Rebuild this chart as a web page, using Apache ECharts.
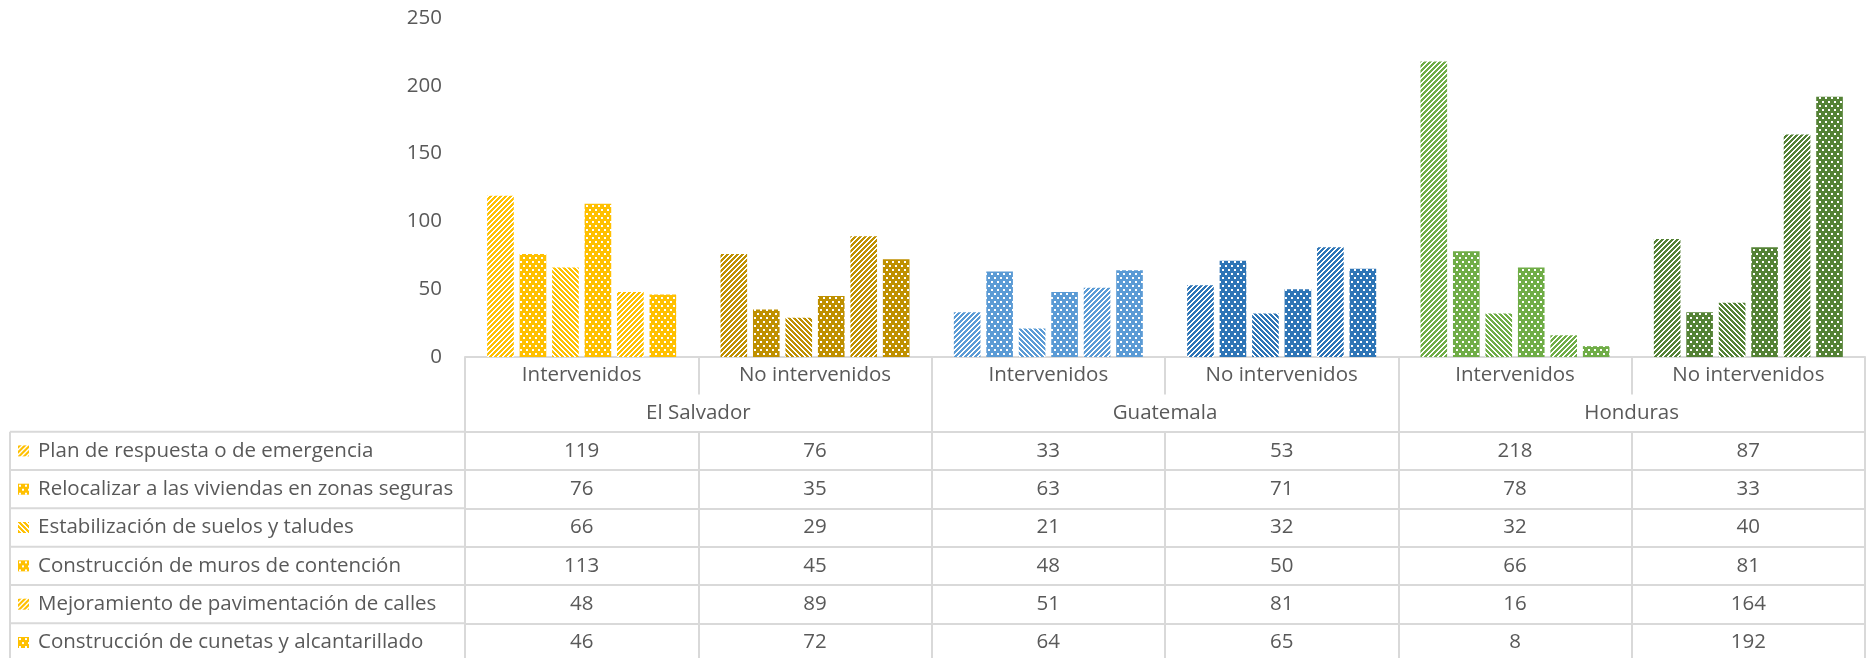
<!DOCTYPE html>
<html>
<head>
<meta charset="utf-8">
<script src="https://cdn.jsdelivr.net/npm/echarts@6/dist/echarts.min.js"></script>
<style>
  html, body { margin: 0; padding: 0; background: #fff; }
  #chart { width: 1868px; height: 658px; }
</style>
</head>
<body>
<div id="chart"></div>
<script>
// Column categories and their countries
const categories = ['Intervenidos', 'No intervenidos', 'Intervenidos', 'No intervenidos', 'Intervenidos', 'No intervenidos'];
const countries = ['El Salvador', 'Guatemala', 'Honduras'];

// Measures (series)
const seriesNames = [
  'Plan de respuesta o de emergencia',
  'Relocalizar a las viviendas en zonas seguras',
  'Estabilización de suelos y taludes',
  'Construcción de muros de contención',
  'Mejoramiento de pavimentación de calles',
  'Construcción de cunetas y alcantarillado'
];
const planRespuesta    = [119, 76, 33, 53, 218, 87];
const relocalizar      = [76, 35, 63, 71, 78, 33];
const estabilizacion   = [66, 29, 21, 32, 32, 40];
const murosContencion  = [113, 45, 48, 50, 66, 81];
const pavimentacion    = [48, 89, 51, 81, 16, 164];
const cunetas          = [46, 72, 64, 65, 8, 192];
const seriesValues = [planRespuesta, relocalizar, estabilizacion, murosContencion, pavimentacion, cunetas];

// Value axis ticks
const yMin = 0, yMax = 250, yStep = 50;

// Colour of each column group, and fill pattern of each measure
const columnColors = ['#FFC000', '#BF9000', '#5B9BD5', '#2E75B6', '#70AD47', '#548235'];
const seriesPatterns = ['up', 'dots', 'down', 'dots', 'up', 'dots'];

const TEXT = '#595959';
const LINE = '#D9D9D9';
const FONT = 'Open Sans';
const FS = 20.5;
const LH = 24;

// Small tiled canvas used as a texture fill
function makePattern(color, kind) {
  const c = document.createElement('canvas');
  let w, h;
  if (kind === 'dots') { w = 6; h = 8; } else { w = 5; h = 5; }
  c.width = w; c.height = h;
  const ctx = c.getContext('2d');
  if (kind === 'dots') {
    ctx.fillStyle = color;
    ctx.fillRect(0, 0, w, h);
    ctx.fillStyle = '#ffffff';
    ctx.fillRect(1, 1, 2, 2);
    ctx.fillRect(4, 5, 2, 2);
  } else {
    ctx.fillStyle = '#ffffff';
    ctx.fillRect(0, 0, w, h);
    ctx.fillStyle = color;
    for (let y = 0; y < h; y++) {
      for (let x = 0; x < w; x++) {
        const k = kind === 'up' ? (x + y) % 5 : ((x - y) % 5 + 5) % 5;
        if (k < 3) ctx.fillRect(x, y, 1, 1);
      }
    }
  }
  return { image: c, repeat: 'repeat' };
}

// Layout of the plot and the data table below it
const gridLeft = 465, gridRight = 3, gridTop = 18, axisY = 357;
const headRow1 = 37.5, headRow2 = 37.2, rowH = 38.33;
const tableLeft = 10;

const series = seriesValues.map((vals, si) => ({
  name: seriesNames[si],
  type: 'bar',
  xAxisIndex: 0,
  yAxisIndex: 0,
  barCategoryGap: '19%',
  barGap: '22%',
  itemStyle: { color: makePattern(columnColors[0], seriesPatterns[si]) },
  data: vals.map((v, ci) => ({
    value: v,
    itemStyle: { color: makePattern(columnColors[ci], seriesPatterns[si]) }
  }))
}));

const labelStyle = { color: TEXT, fontFamily: FONT, fontSize: FS, lineHeight: LH };

const xAxes = [];
// Header row: group categories
xAxes.push({
  type: 'category', data: categories, position: 'bottom', offset: 0,
  axisLine: { show: true, lineStyle: { color: LINE, width: 2 } },
  axisTick: { show: true, interval: 0, length: headRow1, lineStyle: { color: LINE, width: 2 } },
  axisLabel: Object.assign({ interval: 0, margin: 6 }, labelStyle),
  splitLine: { show: false }
});
// Header row: countries
xAxes.push({
  type: 'category', data: countries, position: 'bottom', offset: headRow1,
  axisLine: { show: false },
  axisTick: { show: true, interval: 0, length: headRow2, lineStyle: { color: LINE, width: 2 } },
  axisLabel: Object.assign({ interval: 0, margin: 6.5 }, labelStyle),
  splitLine: { show: false }
});
// One table row per measure
seriesValues.forEach((vals, si) => {
  xAxes.push({
    type: 'category', data: categories, position: 'bottom',
    offset: headRow1 + headRow2 + si * rowH,
    axisLine: { show: true, lineStyle: { color: LINE, width: 2 } },
    axisTick: { show: true, interval: 0, length: rowH, lineStyle: { color: LINE, width: 2 } },
    axisLabel: Object.assign({
      interval: 0, margin: 7,
      formatter: (val, idx) => String(vals[idx])
    }, labelStyle),
    splitLine: { show: false }
  });
});

// Borders of the row-label column
const firstRowTop = axisY + headRow1 + headRow2;
const graphics = [];
for (let i = 0; i < seriesValues.length; i++) {
  const y = firstRowTop + i * rowH;
  graphics.push({
    type: 'line', silent: true,
    shape: { x1: tableLeft, y1: y, x2: gridLeft, y2: y },
    style: { stroke: LINE, lineWidth: 2 }
  });
}
graphics.push({
  type: 'line', silent: true,
  shape: { x1: tableLeft, y1: firstRowTop, x2: tableLeft, y2: 700 },
  style: { stroke: LINE, lineWidth: 2 }
});

const chart = echarts.init(document.getElementById('chart'), null, { renderer: 'canvas' });
chart.setOption({
  animation: false,
  backgroundColor: '#ffffff',
  textStyle: { fontFamily: FONT },
  grid: { left: gridLeft, right: gridRight, top: gridTop, bottom: 658 - axisY, containLabel: false },
  legend: {
    orient: 'vertical',
    left: 18,
    top: firstRowTop + rowH / 2 - LH / 2,
    padding: 0,
    itemWidth: 11,
    itemHeight: 11,
    itemGap: rowH - LH,
    icon: 'rect',
    selectedMode: false,
    textStyle: { color: TEXT, fontFamily: FONT, fontSize: FS, lineHeight: LH, padding: [0, 0, 0, 4] },
    data: seriesNames
  },
  xAxis: xAxes,
  yAxis: {
    type: 'value', min: yMin, max: yMax, interval: yStep,
    axisLine: { show: false },
    axisTick: { show: false },
    splitLine: { show: false },
    axisLabel: { color: TEXT, fontFamily: FONT, fontSize: FS, margin: 23 }
  },
  graphic: graphics,
  series: series
});
</script>
</body>
</html>
